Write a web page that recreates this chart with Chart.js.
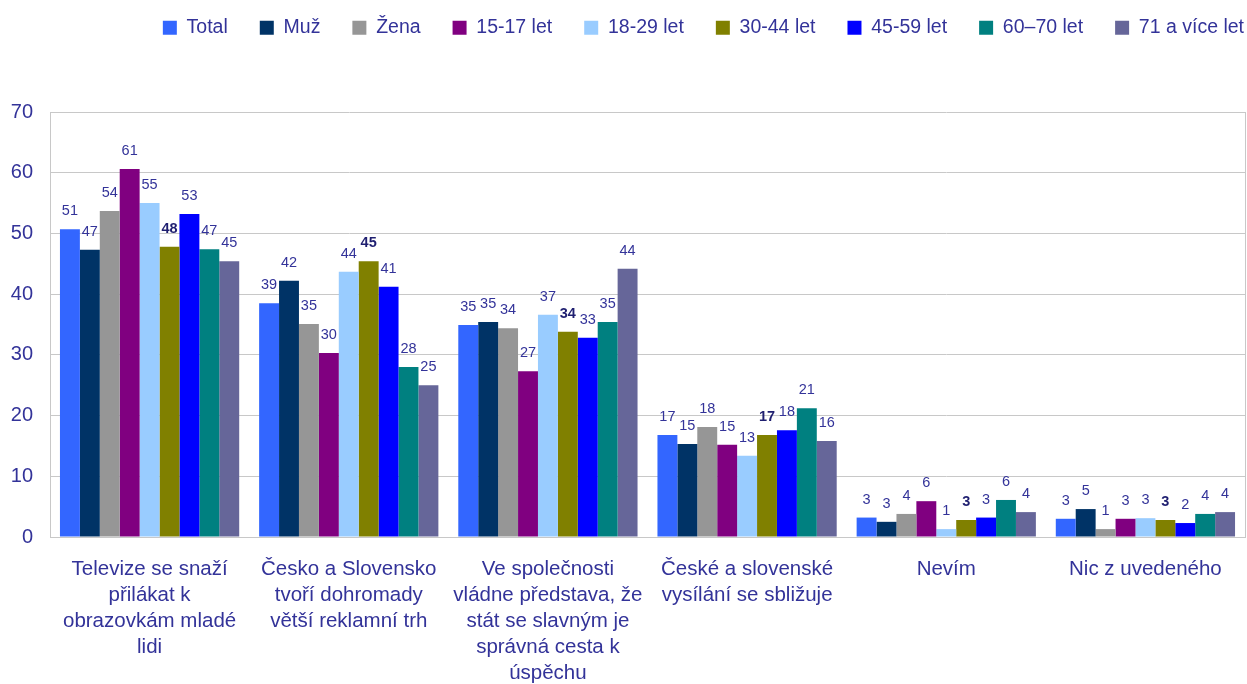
<!DOCTYPE html>
<html lang="cs">
<head>
<meta charset="UTF-8">
<title>Graf</title>
<script src="https://cdn.jsdelivr.net/npm/chart.js"></script>
<style>
  body { margin: 0; padding: 0; background: #ffffff; }
  #wrap { width: 1247px; height: 684px; position: relative; }
</style>
</head>
<body>
<div id="wrap"><canvas id="myChart"></canvas></div>
<script>
// kategorie (víceřádkové popisky osy X)
const categories = [
  ["Televize se snaží", "přilákat k", "obrazovkám mladé", "lidi"],
  ["Česko a Slovensko", "tvoří dohromady", "větší reklamní trh"],
  ["Ve společnosti", "vládne představa, že", "stát se slavným je", "správná cesta k", "úspěchu"],
  ["České a slovenské", "vysílání se sbližuje"],
  ["Nevím"],
  ["Nic z uvedeného"]
];

const seriesNames = ["Total", "Muž", "Žena", "15-17 let", "18-29 let", "30-44 let", "45-59 let", "60–70 let", "71 a více let"];
const seriesColors = ["#3366FF", "#003366", "#969696", "#800080", "#99CCFF", "#808000", "#0000FF", "#008080", "#666699"];

// hodnoty v %
const total  = [50.7, 38.5, 34.9, 16.8, 3.2, 3.0];
const muz    = [47.3, 42.2, 35.4, 15.3, 2.5, 4.6];
const zena   = [53.7, 35.1, 34.4, 18.1, 3.8, 1.3];
const age1517 = [60.6, 30.3, 27.3, 15.2, 5.9, 3.0];
const age1829 = [55.0, 43.7, 36.6, 13.4, 1.3, 3.1];
const age3044 = [47.8, 45.4, 33.8, 16.8, 2.8, 2.8];
const age4559 = [53.2, 41.2, 32.8, 17.6, 3.2, 2.3];
const age6070 = [47.4, 28.0, 35.4, 21.2, 6.1, 3.8];
const age71   = [45.4, 25.0, 44.2, 15.8, 4.1, 4.1];

const yTicks = [0, 10, 20, 30, 40, 50, 60, 70];

const allSeries = [total, muz, zena, age1517, age1829, age3044, age4559, age6070, age71];

const textColor = '#333399';
const fontFamily = '"Liberation Sans", Arial, sans-serif';

// popisky hodnot nad sloupci
const valueLabels = {
  id: 'valueLabels',
  afterDatasetsDraw(chart) {
    const ctx = chart.ctx;
    ctx.save();
    ctx.textAlign = 'center';
    ctx.textBaseline = 'middle';
    chart.data.datasets.forEach((ds, i) => {
      const meta = chart.getDatasetMeta(i);
      const bold = i === 5;
      ctx.font = (bold ? 'bold ' : '') + '14.5px ' + fontFamily;
      ctx.fillStyle = bold ? '#1f1f70' : textColor;
      meta.data.forEach((bar, j) => {
        ctx.fillText(String(Math.round(ds.data[j])), bar.x, bar.y - 18);
      });
    });
    ctx.restore();
  }
};

// rámeček vpravo
const plotBorder = {
  id: 'plotBorder',
  afterDraw(chart) {
    const a = chart.chartArea;
    const ctx = chart.ctx;
    ctx.save();
    ctx.strokeStyle = '#c8c8c8';
    ctx.lineWidth = 1;
    ctx.beginPath();
    ctx.moveTo(a.right + 0.5, a.top);
    ctx.lineTo(a.right + 0.5, a.bottom);
    ctx.stroke();
    ctx.restore();
  }
};

// vyšší legenda (mezera nad grafem) a posun legendy
const legendSpace = {
  id: 'legendSpace',
  beforeInit(chart) {
    const origFit = chart.legend.fit;
    chart.legend.fit = function () {
      origFit.bind(chart.legend)();
      this.height = 112;
    };
  },
  afterUpdate(chart) {
    const lg = chart.legend;
    lg.left += 31; lg.right += 31;
    lg.top -= 14; lg.bottom -= 14;
  }
};

const ctx = document.getElementById('myChart').getContext('2d');
new Chart(ctx, {
  type: 'bar',
  data: {
    labels: categories,
    datasets: allSeries.map((vals, i) => ({
      label: seriesNames[i],
      data: vals,
      backgroundColor: seriesColors[i],
      borderWidth: 0,
      categoryPercentage: 0.9,
      barPercentage: 1.0
    }))
  },
  options: {
    responsive: true,
    maintainAspectRatio: false,
    animation: false,
    layout: { padding: { left: 0, right: 2, top: 0, bottom: 0 } },
    plugins: {
      legend: {
        position: 'top',
        align: 'end',
        labels: {
          boxWidth: 14,
          boxHeight: 14,
          padding: 32,
          color: textColor,
          font: { family: fontFamily, size: 19.5 }
        }
      },
      tooltip: { enabled: false }
    },
    scales: {
      x: {
        grid: { display: false, drawTicks: false },
        border: { color: '#c8c8c8' },
        ticks: {
          color: textColor,
          font: { family: fontFamily, size: 20.5, lineHeight: 1.27 },
          padding: 19,
          maxRotation: 0,
          autoSkip: false
        },
        afterFit(scale) { scale.height = 147; }
      },
      y: {
        min: 0,
        max: 70,
        afterBuildTicks(scale) { scale.ticks = yTicks.map(v => ({ value: v })); },
        grid: { color: '#c8c8c8', drawTicks: false },
        border: { color: '#c8c8c8' },
        ticks: {
          color: textColor,
          font: { family: fontFamily, size: 20 },
          padding: 17
        },
        afterFit(scale) { scale.width = 50; }
      }
    }
  },
  plugins: [valueLabels, plotBorder, legendSpace]
});
</script>
</body>
</html>
